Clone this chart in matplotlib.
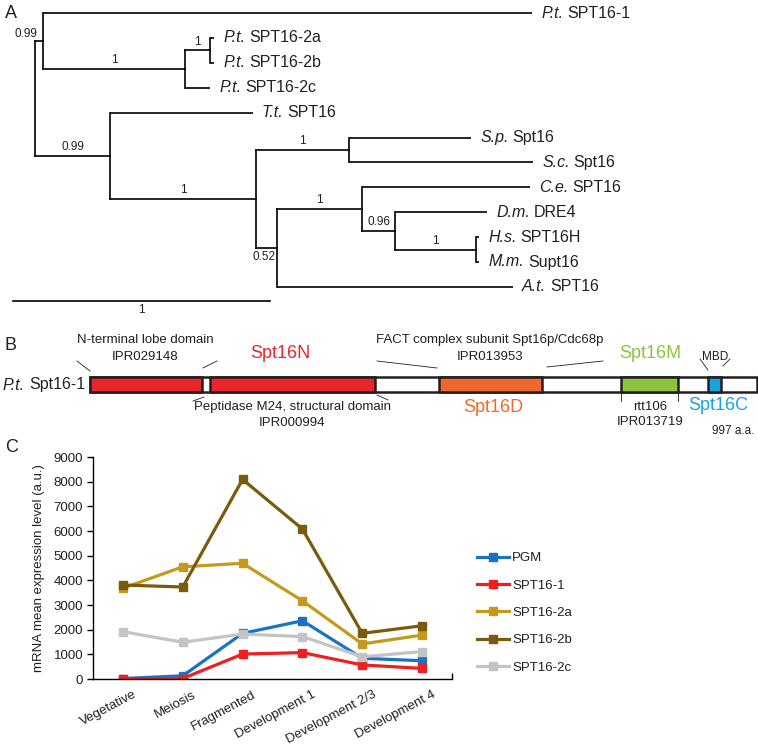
import matplotlib
matplotlib.use("Agg")
import matplotlib.pyplot as plt
import matplotlib.patches as mpatches
from matplotlib.transforms import ScaledTranslation

plt.rcParams['font.family'] = ['Liberation Sans', 'DejaVu Sans']

# ---------------- Panel A data: phylogenetic tree ----------------
# node: (name, branch_length, support, children) ; leaf: (species, protein, branch_length)
tree = ("root", 0.0, None, [
    ("A", 0.031, "0.99", [
        ("P.t.", "SPT16-1", 1.903),
        ("B", 0.553, "1", [
            ("C", 0.097, "1", [
                ("P.t.", "SPT16-2a", 0.016),
                ("P.t.", "SPT16-2b", 0.016),
            ]),
            ("P.t.", "SPT16-2c", 0.097),
        ]),
    ]),
    ("D", 0.292, "0.99", [
        ("T.t.", "SPT16", 0.556),
        ("E", 0.568, "1", [
            ("F", 0.362, "1", [
                ("S.p.", "Spt16", 0.475),
                ("S.c.", "Spt16", 0.716),
            ]),
            ("G", 0.082, "0.52", [
                ("H", 0.331, "1", [
                    ("C.e.", "SPT16", 0.654),
                    ("I", 0.128, "0.96", [
                        ("D.m.", "DRE4", 0.358),
                        ("J", 0.315, "1", [
                            ("H.s.", "SPT16H", 0.012),
                            ("M.m.", "Supt16", 0.012),
                        ]),
                    ]),
                ]),
                ("A.t.", "SPT16", 0.918),
            ]),
        ]),
    ]),
])
support_placement = {"A": "left", "G": "below"}
scale_bar_length = 1

# ---------------- Panel B data: domains ----------------
protein_length = 997
domain_starts = [0, 179, 522, 794, 924]
domain_ends = [167, 426, 676, 879, 943]
domain_colors = ["#E8252B", "#E8252B", "#F0682B", "#8CC43F", "#1BA3E0"]

# ---------------- Panel C data: expression ----------------
stages = ["Vegetative", "Meiosis", "Fragmented", "Development 1",
          "Development 2/3", "Development 4"]
series_names = ["PGM", "SPT16-1", "SPT16-2a", "SPT16-2b", "SPT16-2c"]
pgm = [20, 130, 1850, 2360, 840, 740]
spt16_1 = [10, 20, 1010, 1070, 570, 430]
spt16_2a = [3680, 4550, 4690, 3170, 1420, 1780]
spt16_2b = [3810, 3730, 8090, 6080, 1850, 2160]
spt16_2c = [1920, 1490, 1820, 1720, 900, 1110]
series_values = [pgm, spt16_1, spt16_2a, spt16_2b, spt16_2c]
series_colors = ["#1A73C2", "#F01E1E", "#C49A1E", "#7A5A0C", "#C4C4C4"]

W, H = 758, 751
fig = plt.figure(figsize=(W / 100, H / 100), dpi=100)
renderer = fig.canvas.get_renderer()
tc = '#231F20'
fs_label = 11.5


def two_part_label(ax, xy, italic, regular, dx_pt, fontsize, ha='left'):
    """Italic species abbreviation followed by regular protein name."""
    space_pt = 0.25 * fontsize
    if ha == 'left':
        t1 = ax.annotate(italic, xy, xytext=(dx_pt, 0), textcoords='offset points',
                         ha='left', va='center', fontsize=fontsize, style='italic', color=tc)
        w = t1.get_window_extent(renderer).width * 72 / fig.dpi
        ax.annotate(regular, xy, xytext=(dx_pt + w + space_pt, 0), textcoords='offset points',
                    ha='left', va='center', fontsize=fontsize, color=tc)
    else:
        t2 = ax.annotate(regular, xy, xytext=(dx_pt, 0), textcoords='offset points',
                         ha='right', va='center', fontsize=fontsize, color=tc)
        w = t2.get_window_extent(renderer).width * 72 / fig.dpi
        ax.annotate(italic, xy, xytext=(dx_pt - w - space_pt, 0), textcoords='offset points',
                    ha='right', va='center', fontsize=fontsize, style='italic', color=tc)


# overlay axes in pixel coords for annotations
ov = fig.add_axes([0, 0, 1, 1])
ov.set_xlim(0, W)
ov.set_ylim(H, 0)
ov.axis('off')

# ---------------- Panel A ----------------
px_per_unit = 257.0
root_px = 35.0
leaf0_px, leaf_step = 13.0, 24.9
axt = fig.add_axes([0, 0, 1, 1])
axt.set_xlim(-root_px / px_per_unit, (W - root_px) / px_per_unit)
axt.set_ylim((H - leaf0_px) / leaf_step, -leaf0_px / leaf_step)
axt.axis('off')
axt.patch.set_alpha(0)

leaf_counter = [0]
lw_tree = 1.2


def draw(node, x_parent):
    if len(node) == 3:
        sp, prot, bl = node
        y = leaf_counter[0]
        leaf_counter[0] += 1
        x = x_parent + bl
        axt.plot([x_parent, x], [y, y], color='black', lw=lw_tree, solid_capstyle='butt')
        two_part_label(axt, (x, y), sp, prot, 6.5, fs_label)
        return y, x
    name, bl, sup, children = node
    x = x_parent + bl
    ys = []
    for ch in children:
        cy, _ = draw(ch, x)
        ys.append(cy)
    y = (ys[0] + ys[-1]) / 2.0
    axt.plot([x, x], [ys[0], ys[-1]], color='black', lw=lw_tree, solid_capstyle='projecting')
    if name != "root":
        axt.plot([x_parent, x], [y, y], color='black', lw=lw_tree, solid_capstyle='projecting')
        place = support_placement.get(name, "above")
        if place == "above":
            axt.annotate(sup, ((x_parent + x) / 2, y), xytext=(0, 2), textcoords='offset points',
                         ha='center', va='bottom', fontsize=8.5, color=tc)
        elif place == "left":
            axt.annotate(sup, (x, y), xytext=(-4, 1), textcoords='offset points',
                         ha='right', va='bottom', fontsize=8.5, color=tc)
        elif place == "below":
            axt.annotate(sup, (x, y), xytext=(-1.5, -2), textcoords='offset points',
                         ha='right', va='top', fontsize=8.5, color=tc)
    return y, x


draw(tree, 0.0)

# scale bar
sb_x0 = -22 / px_per_unit
sb_y = (301 - leaf0_px) / leaf_step
axt.plot([sb_x0, sb_x0 + scale_bar_length], [sb_y, sb_y], color='black', lw=lw_tree)
axt.annotate(str(scale_bar_length), (sb_x0 + scale_bar_length / 2, sb_y), xytext=(0, -2),
             textcoords='offset points', ha='center', va='top', fontsize=8.5, color=tc)

# ---------------- Panel B ----------------
bar_left_px, bar_right_px = 90.0, 757.0
aa_per_px = protein_length / (bar_right_px - bar_left_px)
axd = fig.add_axes([0, 0, 1, 1])
axd.set_xlim(-bar_left_px * aa_per_px, (W - bar_left_px) * aa_per_px)
axd.set_ylim(H, 0)
axd.axis('off')
axd.patch.set_alpha(0)
bar_top, bar_h = 377, 15
axd.add_patch(mpatches.Rectangle((0, bar_top), protein_length, bar_h, facecolor='white',
                                 edgecolor='#231F20', lw=1.8))
for s, e, c in zip(domain_starts, domain_ends, domain_colors):
    axd.add_patch(mpatches.Rectangle((s, bar_top), e - s, bar_h, facecolor=c,
                                     edgecolor='#231F20', lw=1.8))

fsB = 9.5
two_part_label(ov, (85, 385), "P.t.", "Spt16-1", 0, fs_label, ha='right')
ov.text(145, 340, "N-terminal lobe domain", ha='center', va='center', fontsize=fsB, color=tc)
ov.text(145, 357, "IPR029148", ha='center', va='center', fontsize=fsB, color=tc)
ov.text(280, 353, "Spt16N", ha='center', va='center', fontsize=13, color='#E8252B')
ov.text(490, 340, "FACT complex subunit Spt16p/Cdc68p", ha='center', va='center', fontsize=fsB, color=tc)
ov.text(490, 357, "IPR013953", ha='center', va='center', fontsize=fsB, color=tc)
ov.text(493, 408, "Spt16D", ha='center', va='center', fontsize=13, color='#F0682B')
ov.text(292, 407, "Peptidase M24, structural domain", ha='center', va='center', fontsize=fsB, color=tc)
ov.text(292, 423, "IPR000994", ha='center', va='center', fontsize=fsB, color=tc)
ov.text(650, 353, "Spt16M", ha='center', va='center', fontsize=13, color='#8CC43F')
ov.text(715, 357, "MBD", ha='center', va='center', fontsize=8.5, color=tc)
ov.text(718, 405, "Spt16C", ha='center', va='center', fontsize=13, color='#1BA3E0')
ov.text(650, 407, "rtt106", ha='center', va='center', fontsize=fsB, color=tc)
ov.text(650, 422, "IPR013719", ha='center', va='center', fontsize=fsB, color=tc)
ov.text(733, 431, "997 a.a.", ha='center', va='center', fontsize=8.5, color=tc)
leader = [((77, 361), (90, 371)), ((203, 368), (217, 361)),
          ((377, 361), (437, 368)), ((547, 367), (603, 361)),
          ((193, 401), (204, 397)), ((377, 395), (388, 400)),
          ((621, 392), (621, 401)), ((678, 392), (678, 401)),
          ((700, 359), (708, 370)), ((723, 366), (730, 359))]
for (x0, y0), (x1, y1) in leader:
    ov.plot([x0, x1], [y0, y1], color=tc, lw=0.6)

# panel letters
ov.text(5, 13, "A", ha='left', va='center', fontsize=13, color=tc)
ov.text(5, 345, "B", ha='left', va='center', fontsize=13, color=tc)
ov.text(5, 447, "C", ha='left', va='center', fontsize=13, color=tc)

# ---------------- Panel C ----------------
axc = fig.add_axes([93 / W, (H - 679) / H, 359 / W, 222 / H])
xs = list(range(len(stages)))
for name, vals, col in zip(series_names, series_values, series_colors):
    axc.plot(xs, vals, color=col, lw=2.3, marker='s', ms=6, label=name)
axc.set_xlim(-0.5, len(stages) - 0.5)
axc.set_ylim(0, 9000)
axc.set_yticks(range(0, 9001, 1000))
axc.set_xticks(xs)
axc.set_xticklabels(stages, rotation=28, ha='right', rotation_mode='anchor', fontsize=9.5,
                    color=tc)
axc.set_xticks([len(stages) - 0.5], minor=True)
axc.tick_params(axis='x', which='major', length=0, pad=7)
axc.tick_params(axis='x', which='minor', length=4, direction='in', width=1)
axc.tick_params(axis='y', length=4, width=1, labelsize=9.5, pad=3, labelcolor=tc)
for sp in ['top', 'right']:
    axc.spines[sp].set_visible(False)
for sp in ['left', 'bottom']:
    axc.spines[sp].set_linewidth(1)
off = ScaledTranslation(10 / 100, 0, fig.dpi_scale_trans)
for lab in axc.get_xticklabels():
    lab.set_transform(lab.get_transform() + off)
axc.set_ylabel("mRNA mean expression level (a.u.)", fontsize=9.5, labelpad=6, color=tc)
axc.legend(loc='upper left', bbox_to_anchor=(477 / W, 1 - 552 / H), bbox_transform=fig.transFigure,
           frameon=False, fontsize=9.5, handlelength=2.4, handletextpad=0.25, labelspacing=1.15,
           borderpad=0, borderaxespad=0, labelcolor=tc)

fig.savefig("out.png", dpi=100, facecolor='white')
